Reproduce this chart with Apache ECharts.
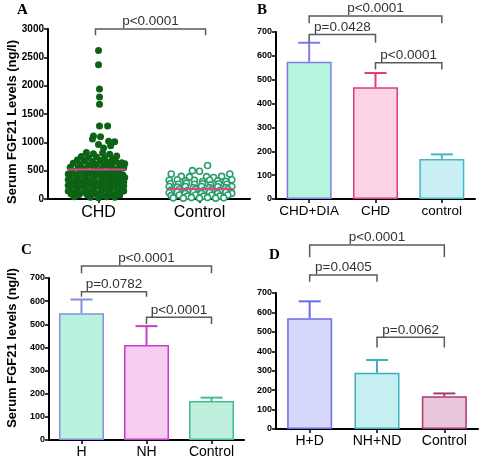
<!DOCTYPE html>
<html><head><meta charset="utf-8">
<script src="https://cdn.jsdelivr.net/npm/echarts@6/dist/echarts.min.js"></script>
<style>html,body{margin:0;padding:0;background:#fff}#c{width:484px;height:461px}</style>
</head><body><div id="c"></div>
<script>
// ---------- Panel A (scatter) ----------
const catsA = ['CHD', 'Control'];
const chdPoints = [
[1.00,2620],[1.00,2370],[1.01,1940],[1.01,1800],[1.01,1670],
[1.01,1290],[1.09,1290],
[0.95,1110],[1.02,1100],[1.10,1020],[1.16,1010],[0.94,1060],
[1.00,960],[1.12,940],[1.05,900],
[0.88,820],[0.95,800],[1.04,810],[1.11,790],[1.18,760],
[0.83,750],[0.90,730],[0.98,740],[1.06,720],[1.14,700],
[0.79,690],[0.86,670],[0.94,660],[1.02,680],[1.09,650],[1.17,660],[1.23,640],
[0.75,630],[0.82,610],[0.90,600],[0.98,610],[1.05,590],[1.13,600],[1.21,580],[1.26,620],
[0.72,560],[0.80,550],[0.87,540],[0.95,560],[1.03,530],[1.11,545],[1.18,530],[1.25,550],
[0.74,500],[0.82,490],[0.89,480],[0.97,500],[1.05,470],[1.13,490],[1.20,470],
[0.70,440],[0.78,430],[0.86,420],[0.93,450],[1.01,420],[1.08,440],[1.16,410],[1.24,430],
[0.72,390],[0.80,380],[0.88,370],[0.96,390],[1.04,370],[1.12,380],[1.20,360],[1.26,380],
[0.70,340],[0.78,330],[0.86,320],[0.94,340],[1.02,310],[1.10,330],[1.18,320],[1.25,300],
[0.73,290],[0.81,280],[0.89,270],[0.97,290],[1.05,260],[1.13,280],[1.21,270],
[0.70,240],[0.78,230],[0.86,220],[0.94,240],[1.02,220],[1.10,230],[1.18,210],[1.25,230],
[0.72,190],[0.80,180],[0.88,170],[0.96,190],[1.04,170],[1.12,180],[1.20,160],
[0.70,140],[0.78,130],[0.86,120],[0.94,140],[1.02,120],[1.10,130],[1.18,110],[1.25,140],
[0.73,90],[0.81,80],[0.89,70],[0.97,90],[1.05,60],[1.13,80],[1.21,70],
[0.76,40],[0.92,30],[1.00,20],[1.08,40],[1.16,30]
];
const controlPoints = [
[2.08,590],
[1.93,500],[2.00,490],
[1.72,440],[2.30,440],
[1.82,400],[1.90,390],[2.07,395],[2.14,380],[2.22,400],
[1.70,330],[1.78,340],[1.86,320],[1.95,330],[2.03,310],[2.10,330],[2.18,320],[2.26,310],[2.32,340],
[1.71,270],[1.79,260],[1.87,280],[1.95,260],[2.03,270],[2.11,250],[2.19,270],[2.27,260],
[1.70,220],[1.78,210],[1.86,220],[1.94,200],[2.02,220],[2.10,200],[2.18,215],[2.26,200],[2.32,220],
[1.72,160],[1.80,170],[1.88,150],[1.96,170],[2.04,150],[2.12,165],[2.20,150],[2.28,170],
[1.70,110],[1.78,120],[1.86,100],[1.94,120],[2.02,100],[2.10,115],[2.18,100],[2.26,120],[2.32,100],
[1.72,60],[1.80,70],[1.88,50],[1.96,70],[2.04,50],[2.12,65],[2.20,50],[2.28,70],
[1.74,20],[1.84,15],[1.92,25],[2.00,15],[2.08,25],[2.16,15],[2.24,20]
];
const meanA = [520, 176];
const meanSpanA = [[0.70, 1.27], [1.69, 2.33]];
const bracketsA = [[0.97, 2.06, 3000, 2890, 2890]];
const labelsA = ['p<0.0001'];

// ---------- Panel B ----------
const catsB = ['CHD+DIA', 'CHD', 'control'];
const meansB = [575, 468, 168];
const upperB = [655, 528, 187];
const bracketsB = [[0, 2, 767, 737, 737], [0, 1, 690, 655, 655], [1, 2, 571, 543, 543]];
const labelsB = ['p<0.0001', 'p=0.0428', 'p<0.0001'];

// ---------- Panel C ----------
const catsC = ['H', 'NH', 'Control'];
const meansC = [548, 410, 168];
const upperC = [607, 492, 183];
const bracketsC = [[0, 2, 752, 720, 720], [0, 1, 641, 619, 619], [1, 2, 530, 501, 501]];
const labelsC = ['p<0.0001', 'p=0.0782', 'p<0.0001'];

// ---------- Panel D ----------
const catsD = ['H+D', 'NH+ND', 'Control'];
const meansD = [570, 290, 168];
const upperD = [657, 355, 183];
const bracketsD = [[0, 2, 947, 884, 884], [0, 1, 793, 758, 758], [1, 2, 472, 420, 420]];
const labelsD = ['p<0.0001', 'p=0.0405', 'p=0.0062'];

// ---------- styles ----------
const fillB = ['#b6f4dd', '#fbd3e4', '#c9eef3'];
const edgeB = ['#7d7ce8', '#e2387f', '#45b4c4'];
const fillC = ['#b9f2dc', '#f6cdf1', '#c0eedc'];
const edgeC = ['#8190e2', '#c53fc5', '#3fbf8e'];
const fillD = ['#d6d9fb', '#c6eff2', '#e9c6d9'];
const edgeD = ['#6b6be6', '#3cb0c0', '#a43b76'];

const FONT = 'Arial, "Liberation Sans", sans-serif';
const SERIF = '"Times New Roman", "Liberation Serif", serif';

function bracketSeries(xi, yi, data, labels) {
  return {
    type: 'custom', xAxisIndex: xi, yAxisIndex: yi, data: data, z: 10,
    encode: {x: 0, y: 2}, clip: false, silent: true,
    renderItem: function (params, api) {
      const x1 = api.value(0), x2 = api.value(1), y = api.value(2), l1 = api.value(3), l2 = api.value(4);
      const p1 = api.coord([x1, l1]), p2 = api.coord([x1, y]), p3 = api.coord([x2, y]), p4 = api.coord([x2, l2]);
      return {type: 'group', children: [
        {type: 'polyline', shape: {points: [p1, p2, p3, p4]}, style: {stroke: '#5a5a5a', lineWidth: 1.5, fill: null}},
        {type: 'text', x: (p2[0] + p3[0]) / 2, y: p2[1] - 0.5,
          style: {text: labels[params.dataIndex], align: 'center', verticalAlign: 'bottom', font: '13.5px ' + FONT, fill: '#333'}}
      ]};
    }
  };
}
function errSeries(xi, yi, means, uppers, edges) {
  return {
    type: 'custom', xAxisIndex: xi, yAxisIndex: yi, z: 5,
    data: means.map((m, i) => [i, m, uppers[i]]), encode: {x: 0, y: 2}, silent: true,
    renderItem: function (params, api) {
      const i = api.value(0);
      const p0 = api.coord([i, api.value(1)]), p1 = api.coord([i, api.value(2)]);
      const col = edges[params.dataIndex];
      return {type: 'group', children: [
        {type: 'line', shape: {x1: p0[0], y1: p0[1], x2: p1[0], y2: p1[1]}, style: {stroke: col, lineWidth: 2}},
        {type: 'line', shape: {x1: p1[0] - 11, y1: p1[1], x2: p1[0] + 11, y2: p1[1]}, style: {stroke: col, lineWidth: 2}}
      ]};
    }
  };
}
function barSeries(xi, yi, means, fills, edges) {
  return {
    type: 'bar', xAxisIndex: xi, yAxisIndex: yi, barWidth: 45, z: 2, silent: true,
    data: means.map((m, i) => ({value: m, itemStyle: {color: fills[i], borderColor: edges[i], borderWidth: 1.5}}))
  };
}
const axisLine = {show: true, lineStyle: {color: '#000', width: 2}};
const axisTick = {show: true, length: 4, lineStyle: {color: '#000', width: 1.5}};
function valAxis(gi, max, interval, fs) {
  return {type: 'value', gridIndex: gi, min: 0, max: max, interval: interval,
    axisLine: axisLine, axisTick: axisTick, splitLine: {show: false},
    axisLabel: {color: '#000', fontWeight: 'bold', fontSize: fs, fontFamily: FONT, margin: 4,
      formatter: function (v) { return String(v); }}};
}
function catAxis(gi, cats, fs, margin) {
  return {type: 'category', gridIndex: gi, data: cats, boundaryGap: true,
    axisLine: axisLine, axisTick: Object.assign({alignWithLabel: true, interval: 0}, axisTick),
    axisLabel: {color: '#000', fontSize: fs, fontFamily: FONT, margin: margin, interval: 0}};
}

const chart = echarts.init(document.getElementById('c'), null, {renderer: 'canvas'});
chart.setOption({
  animation: false,
  backgroundColor: '#fff',
  grid: [
    {left: 48, top: 29, width: 202, height: 170},
    {left: 276, top: 32, width: 199, height: 167},
    {left: 49, top: 278, width: 195, height: 162},
    {left: 276, top: 293, width: 202, height: 136}
  ],
  xAxis: [
    catAxis(0, catsA, 16, 6),
    catAxis(1, catsB, 13.5, 5),
    catAxis(2, catsC, 14, 5),
    catAxis(3, catsD, 14, 5),
    {type: 'value', gridIndex: 0, min: 0.5, max: 2.5, show: false}
  ],
  yAxis: [
    valAxis(0, 3000, 500, 10),
    valAxis(1, 700, 100, 9),
    valAxis(2, 700, 100, 9),
    valAxis(3, 700, 100, 9)
  ],
  graphic: [
    {type: 'text', left: 17, top: 3, style: {text: 'A', font: 'bold 15px ' + SERIF, fill: '#000'}},
    {type: 'text', left: 257, top: 3, style: {text: 'B', font: 'bold 15px ' + SERIF, fill: '#000'}},
    {type: 'text', left: 21, top: 243, style: {text: 'C', font: 'bold 15px ' + SERIF, fill: '#000'}},
    {type: 'text', left: 269, top: 248, style: {text: 'D', font: 'bold 15px ' + SERIF, fill: '#000'}},
    {type: 'text', x: 12, y: 122, rotation: Math.PI / 2,
      style: {text: 'Serum FGF21 Levels (ng/l)', font: 'bold 13px ' + FONT, fill: '#000', align: 'center', verticalAlign: 'middle'}},
    {type: 'text', x: 12, y: 348, rotation: Math.PI / 2,
      style: {text: 'Serum FGF21 levels (ng/l)', font: 'bold 13px ' + FONT, fill: '#000', align: 'center', verticalAlign: 'middle'}}
  ],
  series: [
    {type: 'scatter', xAxisIndex: 4, yAxisIndex: 0, data: chdPoints, symbol: 'circle', symbolSize: 7, silent: true,
      itemStyle: {color: '#0c6315', opacity: 1}},
    {type: 'scatter', xAxisIndex: 4, yAxisIndex: 0, data: controlPoints, symbol: 'circle', symbolSize: 6, silent: true,
      itemStyle: {color: '#ffffff', borderColor: '#2a9e6c', borderWidth: 1.6, opacity: 1}},
    {type: 'line', xAxisIndex: 4, yAxisIndex: 0, z: 6, symbol: 'none', silent: true,
      data: [[meanSpanA[0][0], meanA[0]], [meanSpanA[0][1], meanA[0]]], lineStyle: {color: '#e0448e', width: 2}},
    {type: 'line', xAxisIndex: 4, yAxisIndex: 0, z: 6, symbol: 'none', silent: true,
      data: [[meanSpanA[1][0], meanA[1]], [meanSpanA[1][1], meanA[1]]], lineStyle: {color: '#e0448e', width: 2}},
    bracketSeries(4, 0, bracketsA, labelsA),

    barSeries(1, 1, meansB, fillB, edgeB),
    errSeries(1, 1, meansB, upperB, edgeB),
    bracketSeries(1, 1, bracketsB, labelsB),

    barSeries(2, 2, meansC, fillC, edgeC),
    errSeries(2, 2, meansC, upperC, edgeC),
    bracketSeries(2, 2, bracketsC, labelsC),

    barSeries(3, 3, meansD, fillD, edgeD),
    errSeries(3, 3, meansD, upperD, edgeD),
    bracketSeries(3, 3, bracketsD, labelsD)
  ]
});
</script></body></html>
